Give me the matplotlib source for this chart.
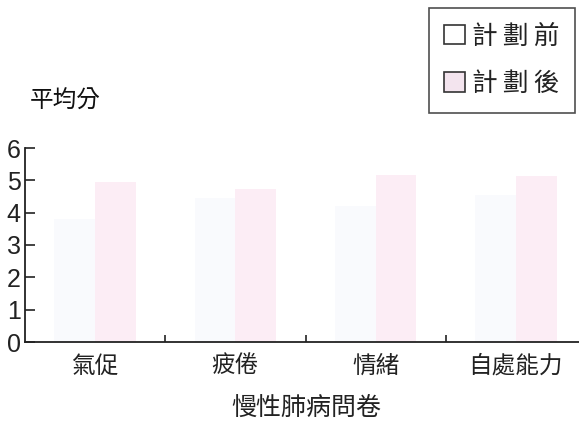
import matplotlib
matplotlib.use("Agg")
import matplotlib.pyplot as plt
from matplotlib.patches import Patch
import numpy as np

# 資料
categories = ["氣促", "疲倦", "情緒", "自處能力"]
before = [3.8, 4.45, 4.2, 4.55]
after = [4.95, 4.72, 5.15, 5.12]
series_names = ["計\u2009劃\u2009前", "計\u2009劃\u2009後"]
y_ticks = [0, 1, 2, 3, 4, 5, 6]

cjk = ["Noto Sans CJK TC", "DejaVu Sans"]
num_font = ["Liberation Sans Narrow", "Liberation Sans"]

before_color = "#f9fafd"
after_color = "#fcedf5"

W, H = 579, 425
fig = plt.figure(figsize=(W / 100, H / 100), dpi=100)
ax = fig.add_axes([25 / W, (H - 342) / H, 1 - 25 / W, (342 - 148) / H])

x = np.arange(len(categories))
bw = 0.29
ax.bar(x - bw / 2, before, width=bw, color=before_color, edgecolor="none")
ax.bar(x + bw / 2, after, width=bw, color=after_color, edgecolor="none")

ax.set_xlim(-0.5, 3.45)
ax.set_ylim(0, 6)

for s in ["top", "right"]:
    ax.spines[s].set_visible(False)
for s in ["left", "bottom"]:
    ax.spines[s].set_linewidth(1.3)
    ax.spines[s].set_color("#222222")

# y 軸刻度
ax.set_yticks(y_ticks)
ax.set_yticklabels([str(v) for v in y_ticks], fontfamily=num_font, fontsize=18, color="#222222")
ax.tick_params(axis="y", direction="in", length=7, width=1.2, pad=3, colors="#222222")

# x 軸：刻度在組與組之間，標籤置中
ax.set_xticks(x[:-1] + 0.5)
ax.set_xticklabels([])
ax.tick_params(axis="x", direction="in", length=5, width=1.2, colors="#222222")
for xi, name in zip(x, categories):
    ax.text(xi, -0.124, name, transform=ax.get_xaxis_transform(), ha="center", va="center",
            fontfamily=cjk, fontsize=17, color="#222222")

fig.text(306 / W, 1 - 408 / H, "慢性肺病問卷", ha="center", va="center",
         fontfamily=cjk, fontsize=18, color="#222222")
fig.text(30 / W, 1 - 101 / H, "平均分", ha="left", va="center",
         fontfamily=cjk, fontsize=17, color="#111111")

handles = [Patch(facecolor="white", edgecolor="#333333", linewidth=1.2),
           Patch(facecolor="#f3e4ee", edgecolor="#333333", linewidth=1.2)]
leg = fig.legend(handles, series_names, loc="upper right",
                 bbox_to_anchor=(575 / W, 1 - 8 / H),
                 prop={"family": cjk, "size": 18.5},
                 handlelength=0.8, handleheight=0.8, handletextpad=0.28,
                 borderpad=0.6, labelspacing=0.85, fancybox=False, frameon=True,
                 borderaxespad=0)
leg.get_frame().set_edgecolor("#222222")
leg.get_frame().set_linewidth(1.2)
for t in leg.get_texts():
    t.set_color("#222222")

fig.savefig("out.png", dpi=100)
